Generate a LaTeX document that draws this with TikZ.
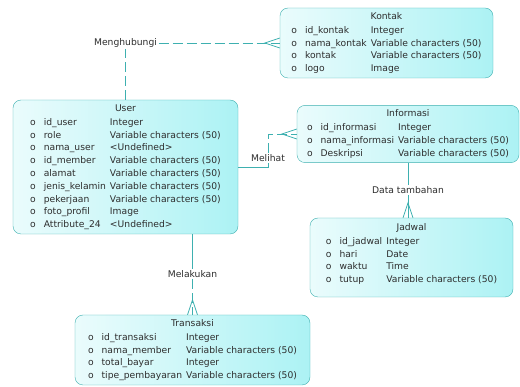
\documentclass[tikz,border=0pt]{standalone}
\usepackage{fontspec}
\setmainfont{DejaVu Sans}
\usetikzlibrary{positioning}

\definecolor{entline}{RGB}{62,176,176}
\definecolor{entfill}{RGB}{172,242,244}
\definecolor{txtgray}{RGB}{45,45,45}

\newcommand{\erfont}{\fontsize{9.2}{12.8}\selectfont}
\newenvironment{attrtab}{\begin{tabular}{@{}l@{\hspace{8pt}}l@{\hspace{4pt}}l@{}}}{\end{tabular}}
% crow's foot at the entity end of a link
\newcommand{\crowsfoot}[2]{\draw[link,shift={(#1)},rotate=#2] (0,5) -- (15,0) -- (0,-5);}

\tikzset{
  entity/.style={draw=entline, rounded corners=8pt, left color=white!75!entfill,
    right color=entfill, inner xsep=0pt, inner ysep=2.5pt, font=\erfont, text=txtgray},
  link/.style={draw=entline, line width=0.8pt},
  optlink/.style={link, dash pattern=on 10pt off 4pt},
  rel/.style={fill=white, inner sep=1.5pt, font=\erfont, text=txtgray}
}

\begin{document}
\begin{tikzpicture}[x=1pt,y=-1pt]
\useasboundingbox (0,0) rectangle (520,387);

\node[entity, minimum width=213pt] (kontak) at (386.5,43) {\begin{attrtab}
\multicolumn{3}{c}{Kontak}\\[1pt]
o & id\_kontak & Integer\\
o & nama\_kontak & Variable characters (50)\\
o & kontak & Variable characters (50)\\
o & logo & Image
\end{attrtab}};

\node[entity, minimum width=225pt] (user) at (125.5,167) {\begin{attrtab}
\multicolumn{3}{c}{User}\\[1pt]
o & id\_user & Integer\\
o & role & Variable characters (50)\\
o & nama\_user & <Undefined>\\
o & id\_member & Variable characters (50)\\
o & alamat & Variable characters (50)\\
o & jenis\_kelamin & Variable characters (50)\\
o & pekerjaan & Variable characters (50)\\
o & foto\_profil & Image\\
o & Attribute\_24 & <Undefined>
\end{attrtab}};

\node[entity, minimum width=222pt] (informasi) at (408,134) {\begin{attrtab}
\multicolumn{3}{c}{Informasi}\\[1pt]
o & id\_informasi & Integer\\
o & nama\_informasi & Variable characters (50)\\
o & Deskripsi & Variable characters (50)
\end{attrtab}};

\node[entity, minimum width=203pt, minimum height=79pt] (jadwal) at (411.5,257.5) {\begin{attrtab}
\multicolumn{3}{c}{Jadwal}\\[1pt]
o & id\_jadwal & Integer\\
o & hari & Date\\
o & waktu & Time\\
o & tutup & Variable characters (50)\\[7pt]
\end{attrtab}};

\node[entity, minimum width=235pt] (transaksi) at (192.5,350) {\begin{attrtab}
\multicolumn{3}{c}{Transaksi}\\[1pt]
o & id\_transaksi & Integer\\
o & nama\_member & Variable characters (50)\\
o & total\_bayar & Integer\\
o & tipe\_pembayaran & Variable characters (50)
\end{attrtab}};

% User - Kontak
\node[rel] (hubung) at (user.north |- kontak.west) {Menghubungi};
\coordinate (kin) at (hubung.east -| kontak.west);
\draw[optlink] (user.north) -- (hubung);
\draw[optlink] (hubung) -- (kin);
\crowsfoot{kin}{180}

% User - Informasi
\node[rel] (lihat) at (268,158) {Melihat};
\coordinate (lbend) at (user.east -| lihat);
\coordinate (ibend) at (lihat |- informasi.west);
\draw[link] (user.east) -- (lbend) -- (lihat);
\draw[optlink] (lihat) -- (ibend) -- (informasi.west);
\crowsfoot{informasi.west}{180}

% Informasi - Jadwal
\node[rel] (tambah) at (408,190) {Data tambahan};
\coordinate (jin) at (informasi.south |- jadwal.north);
\draw[link] (informasi.south) -- (tambah);
\draw[link] (tambah) -- (jin);
\crowsfoot{jin}{90}

% User - Transaksi
\node[rel] (laku) at (192.5,274) {Melakukan};
\coordinate (uout) at (transaksi.north |- user.south);
\draw[link] (uout) -- (laku);
\draw[optlink] (laku) -- (transaksi.north);
\crowsfoot{transaksi.north}{90}
\end{tikzpicture}
\end{document}
